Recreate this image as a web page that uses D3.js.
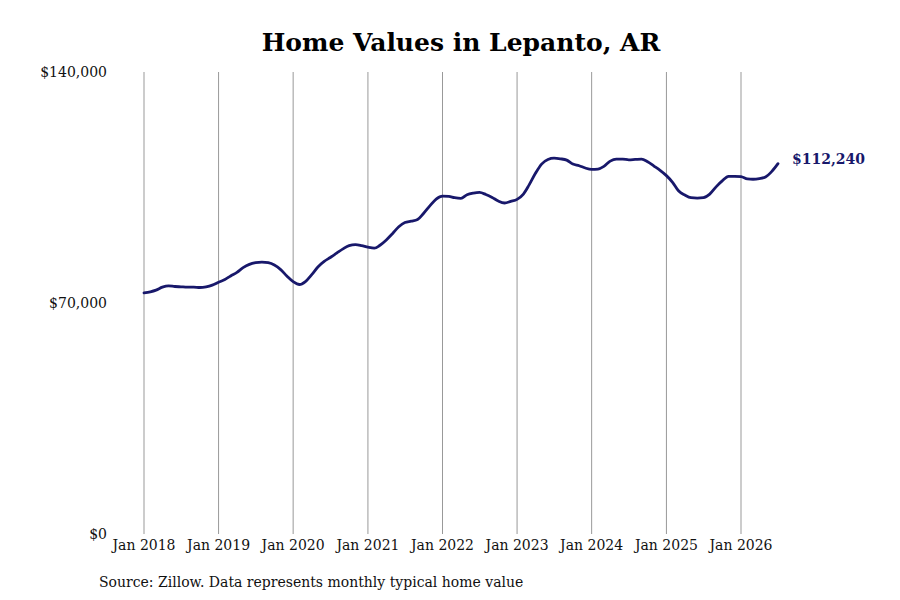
<!DOCTYPE html>
<meta charset="utf-8">
<script src="https://d3js.org/d3.v7.min.js"></script>
<style>
  body { margin: 0; background: #fff; }
  text { font-family: "DejaVu Serif", serif; }
</style>
<body>
<svg id="vis" width="900" height="600"></svg>
<script>
// monthly typical home value, Jan 2018 .. Jul 2026 (thousands of $)
var startYear = 2018, startMonth = 0;
var values = [
  73.1, 73.4, 73.9, 74.8, 75.2, 75.0, 74.9, 74.8, 74.8, 74.7, 74.9, 75.4,
  76.3, 77.1, 78.2, 79.3, 80.7, 81.7, 82.2, 82.4, 82.2, 81.5, 80.1, 78.2,
  76.5, 75.6, 76.5, 78.6, 80.9, 82.6, 83.8, 85.1, 86.4, 87.4, 87.7, 87.4,
  86.9, 86.6, 87.5, 89.1, 91.0, 93.1, 94.4, 94.8, 95.3, 97.2, 99.5, 101.5,
  102.4, 102.3, 101.9, 101.7, 102.8, 103.3, 103.5, 102.9, 102.0, 100.9, 100.3, 100.8,
  101.4, 103.0, 105.8, 109.3, 112.1, 113.5, 113.9, 113.7, 113.3, 112.1, 111.6, 110.9,
  110.5, 110.6, 111.4, 113.0, 113.6, 113.6, 113.4, 113.5, 113.6, 112.8, 111.5, 110.2,
  108.6, 106.5, 104.0, 102.7, 101.9, 101.8, 101.9, 103.0, 105.2, 107.0, 108.4, 108.4,
  108.3, 107.6, 107.5, 107.7, 108.2, 109.9, 112.24
];
var tickYears = [2018, 2019, 2020, 2021, 2022, 2023, 2024, 2025, 2026];
var yTicks = [0, 70000, 140000];
var lastLabel = "$112,240";

var data = values.map(function(v, i) {
  return { date: new Date(startYear, startMonth + i, 1), value: v * 1000 };
});

var svg = d3.select("#vis");

var x = d3.scaleTime()
  .domain([new Date(2018, 0, 1), new Date(2026, 0, 1)])
  .range([144, 741]);
var y = d3.scaleLinear()
  .domain([0, 140000])
  .range([534, 72]);

// title
svg.append("text")
  .attr("x", 461)
  .attr("y", 51)
  .attr("text-anchor", "middle")
  .attr("font-size", "25px")
  .attr("font-weight", "bold")
  .text("Home Values in Lepanto, AR");

// vertical grid lines
svg.append("g")
  .selectAll("line")
  .data(tickYears)
  .enter()
  .append("line")
    .attr("x1", function(d) { return x(new Date(d, 0, 1)); })
    .attr("x2", function(d) { return x(new Date(d, 0, 1)); })
    .attr("y1", y(140000))
    .attr("y2", y(0))
    .attr("stroke", "#999")
    .attr("stroke-width", 1);

// x labels
svg.append("g")
  .selectAll("text")
  .data(tickYears)
  .enter()
  .append("text")
    .attr("x", function(d) { return x(new Date(d, 0, 1)); })
    .attr("y", 550)
    .attr("text-anchor", "middle")
    .attr("font-size", "14px")
    .attr("fill", "#111")
    .text(function(d) { return "Jan " + d; });

// y labels
svg.append("g")
  .selectAll("text")
  .data(yTicks)
  .enter()
  .append("text")
    .attr("x", 107)
    .attr("y", function(d) { return y(d) + 5; })
    .attr("text-anchor", "end")
    .attr("font-size", "14px")
    .attr("fill", "#111")
    .text(function(d) { return "$" + d3.format(",")(d); });

// line
svg.append("path")
  .datum(data)
  .attr("fill", "none")
  .attr("stroke", "#18186b")
  .attr("stroke-width", 2.8)
  .attr("stroke-linejoin", "round")
  .attr("stroke-linecap", "round")
  .attr("d", d3.line()
    .curve(d3.curveMonotoneX)
    .x(function(d) { return x(d.date); })
    .y(function(d) { return y(d.value); }));

// end label
var last = data[data.length - 1];
svg.append("text")
  .attr("x", x(last.date) + 14)
  .attr("y", y(last.value) + 0)
  .attr("font-size", "14px")
  .attr("font-weight", "bold")
  .attr("fill", "#18186b")
  .text(lastLabel);

// source
svg.append("text")
  .attr("x", 99)
  .attr("y", 587)
  .attr("font-size", "14px")
  .attr("fill", "#111")
  .text("Source: Zillow. Data represents monthly typical home value");
</script>
</body>
